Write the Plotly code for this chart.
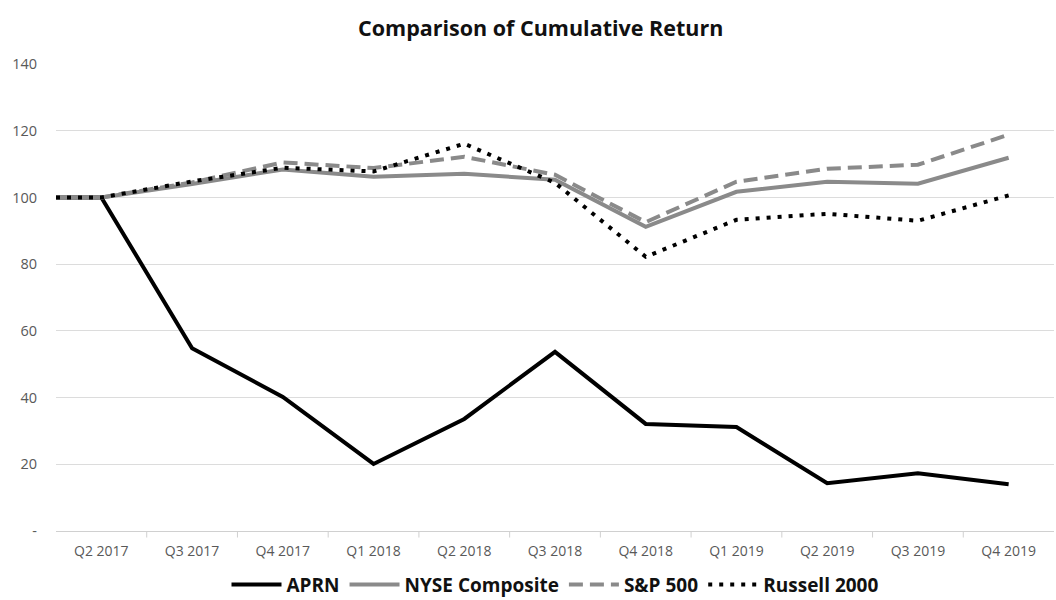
import plotly.graph_objects as go

# Quarterly index values (base = 100)
quarters = ["Q2 2017", "Q3 2017", "Q4 2017", "Q1 2018", "Q2 2018", "Q3 2018",
            "Q4 2018", "Q1 2019", "Q2 2019", "Q3 2019", "Q4 2019"]
base_value = 100
aprn = [100, 54.8, 40.2, 20.1, 33.6, 53.7, 32.1, 31.2, 14.3, 17.3, 14.0]
nyse = [100, 104.0, 108.4, 106.2, 107.1, 105.3, 91.2, 101.7, 104.7, 104.1, 111.9]
sp500 = [100, 104.5, 110.5, 108.8, 112.2, 106.8, 92.6, 104.7, 108.6, 109.8, 118.8]
russell = [100, 104.8, 108.9, 107.8, 116.1, 104.4, 82.2, 93.3, 95.1, 93.0, 100.6]

y_ticks = [0, 20, 40, 60, 80, 100, 120, 140]
y_labels = ["-", "20", "40", "60", "80", "100", "120", "140"]

series = [
    ("APRN", aprn, "#000000", "solid", 4),
    ("NYSE Composite", nyse, "#8a8a8a", "solid", 4),
    ("S&P 500", sp500, "#8a8a8a", "14px,7px", 4),
    ("Russell 2000", russell, "#000000", "4px,7px", 4),
]

# numeric positions for categories; lines begin at the left edge at the base value
idx = list(range(len(quarters)))
x_start = -0.5

fig = go.Figure()
for name, vals, color, dash, width in series:
    fig.add_trace(go.Scatter(
        x=[x_start] + idx,
        y=[base_value] + vals,
        mode="lines",
        name=name,
        line=dict(color=color, dash=dash, width=width),
    ))

fig.update_layout(
    width=1056,
    height=600,
    margin=dict(l=56, r=2, t=64, b=69, autoexpand=False),
    paper_bgcolor="white",
    plot_bgcolor="white",
    title=dict(
        text="<b>Comparison of Cumulative Return</b>",
        x=0.512, xanchor="center",
        y=0.952, yanchor="middle",
        font=dict(family="Open Sans", size=21.5, color="#111111"),
    ),
    font=dict(family="Open Sans", color="#595959"),
    showlegend=True,
    legend=dict(
        orientation="h",
        x=0.5, xanchor="center",
        y=-0.115, yanchor="middle",
        font=dict(family="Open Sans", size=19, color="#111111", weight="bold"),
        itemwidth=50,
        tracegroupgap=0,
    ),
    xaxis=dict(
        range=[-0.5, len(quarters) - 0.5],
        tickmode="array",
        tickvals=idx,
        ticktext=quarters,
        showgrid=False,
        showline=True,
        linecolor="#d0d0d0",
        linewidth=1,
        ticks="",
        ticklabelstandoff=7,
        automargin=False,
        tickfont=dict(size=14, color="#595959"),
        zeroline=False,
    ),
    yaxis=dict(
        range=[0, 140],
        tickmode="array",
        tickvals=y_ticks,
        ticktext=y_labels,
        showgrid=True,
        gridcolor="#dcdcdc",
        gridwidth=1,
        zeroline=False,
        showline=False,
        ticks="",
        ticklabelstandoff=18,
        automargin=False,
        tickfont=dict(size=14.5, color="#595959"),
    ),
)

# category boundary tick marks along the x axis
for b in [i + 0.5 for i in idx[:-1]]:
    fig.add_shape(type="line", xref="x", yref="paper", x0=b, x1=b, y0=0, y1=-0.014,
                  line=dict(color="#d0d0d0", width=1))

fig.write_html("out.html")
